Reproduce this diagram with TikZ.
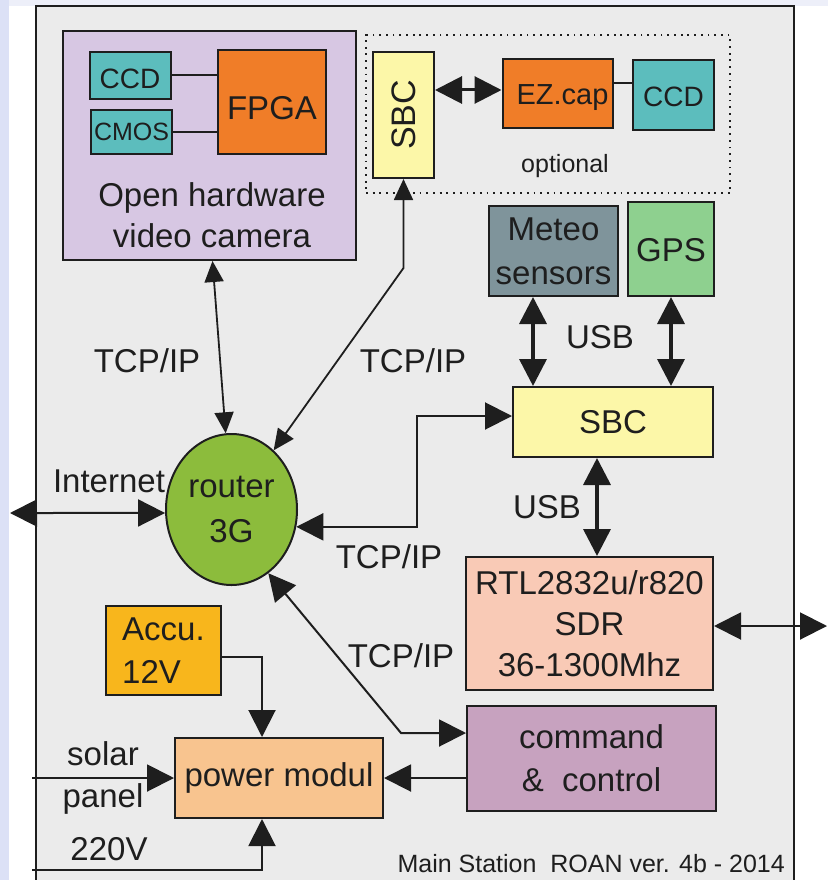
\documentclass[tikz,border=0pt]{standalone}
\usepackage{fontspec}
\usepackage{graphicx}
\setmainfont{Liberation Sans}
\usetikzlibrary{arrows.meta,shapes.geometric}

\definecolor{pagelav}{HTML}{DCE1F6}
\definecolor{toplav}{HTML}{EDEFF9}
\definecolor{framegray}{HTML}{EBEBEB}
\definecolor{camfill}{HTML}{D7C7E3}
\definecolor{sensorteal}{HTML}{5CBDBD}
\definecolor{fpgaorange}{HTML}{F07D28}
\definecolor{sbcyellow}{HTML}{FCF7A8}
\definecolor{meteogray}{HTML}{7F949B}
\definecolor{gpsgreen}{HTML}{8ED08F}
\definecolor{routergreen}{HTML}{8CBC3C}
\definecolor{rtlpeach}{HTML}{F9CAB6}
\definecolor{cmdmauve}{HTML}{C7A2BF}
\definecolor{accuamber}{HTML}{F8B61C}
\definecolor{powerpeach}{HTML}{F8C48F}
\definecolor{ink}{HTML}{1E1E1E}

\newcommand\fs[2]{\fontsize{#1}{#2}\selectfont}

\tikzset{
  box/.style={draw=ink, line width=2pt, inner sep=0pt, text=ink, align=center, font=\fs{33}{43}},
  lbl/.style={text=ink, inner sep=0pt, font=\fs{33}{43}},
  conn/.style={draw=ink, line width=2pt},
  bigtip/.tip={Triangle[length=27pt,width=27pt]},
  smalltip/.tip={Triangle[length=21pt,width=19pt]},
  dbl/.style={conn, bigtip-bigtip},
  usb/.style={conn, line width=3.6pt, bigtip-bigtip},
  one/.style={conn, -bigtip},
  thin dbl/.style={conn, line width=1.8pt, smalltip-smalltip},
}

\begin{document}
\begin{tikzpicture}[x=1pt,y=-1pt]
\useasboundingbox (0,0) rectangle (828,880);
\clip (0,0) rectangle (828,880);

% page background and station frame
\fill[white] (0,0) rectangle (828,880);
\fill[pagelav] (0,0) rectangle (9,880);
\fill[toplav] (9,0) rectangle (828,6);
\draw[ink, line width=2pt, fill=framegray] (36,6) rectangle (794,900);

% video camera
\node[box, fill=camfill, minimum width=293pt, minimum height=229pt] (cam) at (209.5,145.5) {};
\node[box, fill=sensorteal, minimum width=81pt, minimum height=47pt, font=\fs{28}{34}, text height=27pt] (ccda) at (130,75.5) {CCD};
\node[box, fill=sensorteal, minimum width=81pt, minimum height=44pt, font=\fs{25}{30}] (cmos) at (131.5,132) {CMOS};
\node[box, fill=fpgaorange, minimum width=108pt, minimum height=104pt, text height=36pt] (fpga) at (272,102) {FPGA};
\node[lbl, align=center, font=\fs{33}{41}] (camtext) at (212,215.5) {Open hardware\\video camera};

% optional capture unit
\node[draw=ink, line width=1.6pt, dash pattern={on 1.8pt off 4.9pt}, minimum width=364pt, minimum height=158pt, inner sep=0pt] (opt) at (548,114) {};
\node[lbl, anchor=base, font=\fs{25}{30}] (opttext) at (565,172) {optional};
\node[box, fill=sbcyellow, minimum width=61pt, minimum height=126pt, font=\fs{34}{40}] (sbca) at (403.5,115) {\rotatebox{90}{SBC}};
\node[box, fill=fpgaorange, minimum width=110pt, minimum height=69pt, font=\fs{29}{35}, text height=23pt, text depth=0pt] (ezcap) at (557.5,93.5) {\hspace*{10pt}EZ.cap};
\node[box, fill=sensorteal, minimum width=81pt, minimum height=70pt, font=\fs{28}{34}, text height=24pt] (ccdb) at (673.5,95) {CCD};

% main SBC and its peripherals
\node[box, fill=meteogray, minimum width=129pt, minimum height=90pt, font=\fs{33}{44}] (meteo) at (553.5,251) {Meteo\\sensors};
\node[box, fill=gpsgreen, minimum width=86pt, minimum height=94pt, text height=26pt] (gps) at (671,249) {GPS};
\node[box, fill=sbcyellow, minimum width=200pt, minimum height=70pt] (sbcb) at (613,422) {SBC};
\node[box, fill=rtlpeach, minimum width=247pt, minimum height=133pt, font=\fs{33}{41}] (rtl) at (589.5,623.5) {RTL2832u/r820\\SDR\\36-1300Mhz};
\node[box, fill=cmdmauve, minimum width=249pt, minimum height=105pt] (cmd) at (591.5,758.5) {command\\\&\ \ control};

% power
\node[box, fill=accuamber, minimum width=115pt, minimum height=89pt, align=left] (accu) at (163.5,650.5) {Accu.\\12V};
\node[box, fill=powerpeach, minimum width=208pt, minimum height=80pt] (power) at (279,778) {power modul};

% router
\node[box, ellipse, fill=routergreen, minimum width=131pt, minimum height=151pt, font=\fs{33}{45}] (router) at (231.5,509.5) {router\\3G};

% labels
\node[lbl, anchor=base] (tcpa) at (147,372) {TCP/IP};
\node[lbl, anchor=base] (tcpb) at (413,372) {TCP/IP};
\node[lbl, anchor=base] (tcpc) at (389,568) {TCP/IP};
\node[lbl, anchor=base] (tcpd) at (401,667) {TCP/IP};
\node[lbl, anchor=base] (usba) at (600,348) {USB};
\node[lbl, anchor=base] (usbb) at (547,518) {USB};
\node[lbl, anchor=base] (inet) at (109,492) {Internet};
\node[lbl, align=center, font=\fs{33}{42}] (solar) at (103,777.5) {solar\\panel};
\node[lbl, anchor=base] (mainsv) at (109,860) {220V};
\node[lbl, anchor=base east, font=\fs{25}{30}] (title) at (785,872) {Main Station\ \ ROAN ver. 4b - 2014};

% connector helpers
\coordinate (inetend) at (10,513);
\coordinate (antend) at (827,626);
\coordinate (solarin) at (32,778);
\coordinate (mainsin) at (32,870);
\coordinate (sbcabend) at (403.5,268);
\coordinate (cmdbend) at (401,733);
\coordinate (xmet) at (533,0);
\coordinate (xrtl) at (597,0);
\coordinate (ezin) at ([yshift=3.5pt]ezcap.west);
\coordinate (ezout) at ([yshift=10.5pt]ezcap.east);
\coordinate (sbcin) at ([yshift=6pt]sbcb.west);
\coordinate (rtlout) at ([yshift=-2.5pt]rtl.east);
\coordinate (accuout) at ([yshift=-6.5pt]accu.east);
\coordinate (xpow) at ([xshift=-17pt]power.north);
\coordinate (cmdout) at ([yshift=-19.5pt]cmd.west);

% connectors
\draw[conn] (ccda.east) -- (ccda.east -| fpga.west);
\draw[conn] (cmos.east) -- (cmos.east -| fpga.west);
\draw[usb, line width=3pt] (ezin -| sbca.east) -- (ezin);
\draw[conn] (ezout) -- (ezout -| ccdb.west);
\draw[thin dbl] ([xshift=3pt]cam.south) -- (router);
\draw[thin dbl] (sbca.south) -- (sbcabend) -- (router);
\draw[usb] (meteo.south -| xmet) -- (sbcb.north -| xmet);
\draw[usb] (gps.south) -- (gps.south |- sbcb.north);
\draw[usb] (sbcb.south -| xrtl) -- (rtl.north -| xrtl);
\draw[dbl] (sbcin) -- ++(-95,0) |- (router.-15);
\draw[dbl] (router.-60) -- (cmdbend) -- (cmdbend -| cmd.west);
\draw[dbl] (inetend) -- (router.183);
\draw[dbl] (rtlout) -- (antend);
\draw[one] (accuout) -| (xpow);
\draw[one] (solarin) -- (power.west);
\draw[one] (mainsin) -| (power.south -| xpow);
\draw[one] (cmdout) -- (cmdout -| power.east);
\end{tikzpicture}
\end{document}
